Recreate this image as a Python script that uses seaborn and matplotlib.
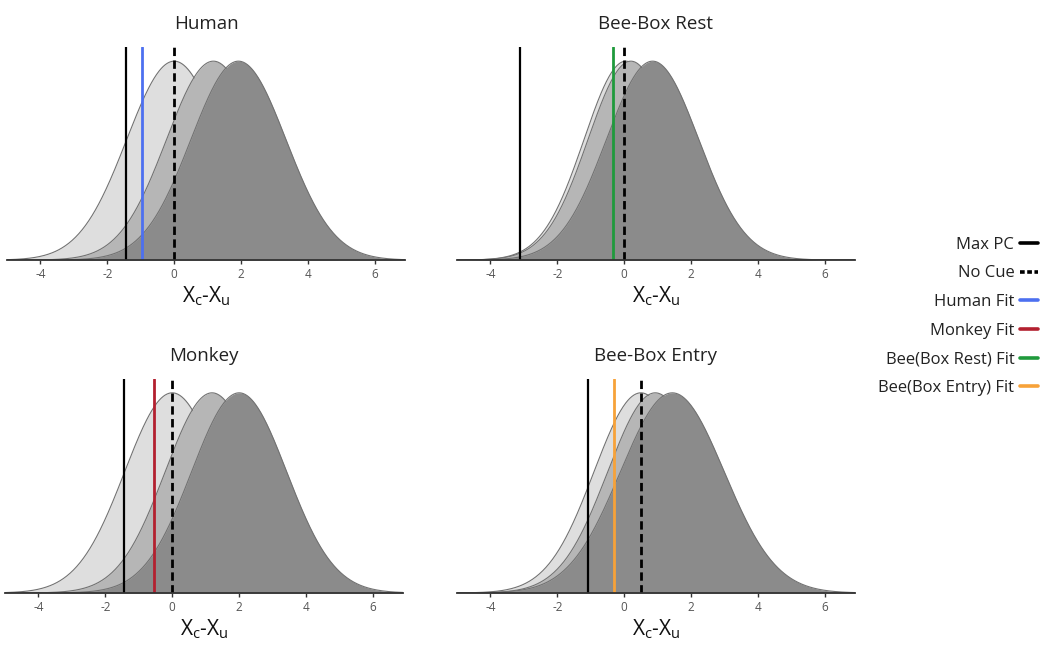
import numpy as np
import matplotlib

matplotlib.use("Agg")
import matplotlib.pyplot as plt  # noqa: E402
import seaborn as sns  # noqa: E402
import pandas as pd  # noqa: E402
from matplotlib.lines import Line2D  # noqa: E402

sns.set_theme(style="white")
plt.rcParams["font.family"] = ["Open Sans", "DejaVu Sans"]

# ---------------------------------------------------------------------------
# Data
# ---------------------------------------------------------------------------
PANELS = ["Human", "Bee-Box Rest", "Monkey", "Bee-Box Entry"]

# centre / spread of the three distributions (light, medium, dark) per panel
light_mean = [0.0, 0.05, 0.0, 0.5]
light_sd = [1.42, 1.25, 1.42, 1.40]
medium_mean = [1.17, 0.2, 1.19, 0.93]
medium_sd = [1.40, 1.28, 1.40, 1.42]
dark_mean = [1.92, 0.85, 2.0, 1.44]
dark_sd = [1.42, 1.38, 1.42, 1.55]

# criterion lines
max_pc = [-1.44, -3.1, -1.43, -1.07]
no_cue = [0.0, 0.0, 0.0, 0.51]
fit_value = [-0.96, -0.32, -0.54, -0.29]
fit_color = ["#4d70f0", "#1f9a3c", "#b3202f", "#f7a239"]

XTICKS = [-4, -2, 0, 2, 4, 6]
XLIM = (-5, 6.9)
YTOP = 1.07

FILLS = ["#dedede", "#b6b6b6", "#8b8b8b"]
EDGE = "#727272"

LEGEND_LABELS = ["Max PC", "No Cue", "Human Fit", "Monkey Fit",
                 "Bee(Box Rest) Fit", "Bee(Box Entry) Fit"]
LEGEND_COLORS = ["black", "black", "#4d70f0", "#b3202f", "#1f9a3c", "#f7a239"]
LEGEND_STYLES = ["-", (0, (1.3, 0.7)), "-", "-", "-", "-"]

# axes boxes in figure fractions [left, bottom, width, height]
BOXES = [
    [0.0067, 0.598, 0.379, 0.329],
    [0.4352, 0.598, 0.379, 0.329],
    [0.0048, 0.0835, 0.379, 0.331],
    [0.4352, 0.0835, 0.379, 0.331],
]

grid = np.linspace(XLIM[0], XLIM[1], 600)


def bump(mean, sd):
    return np.exp(-0.5 * ((grid - mean) / sd) ** 2)


fig = plt.figure(figsize=(10.5, 6.47), dpi=100)

for i, name in enumerate(PANELS):
    ax = fig.add_axes(BOXES[i])
    params = [(light_mean[i], light_sd[i]),
              (medium_mean[i], medium_sd[i]),
              (dark_mean[i], dark_sd[i])]
    for k, (m, s) in enumerate(params):
        y = bump(m, s)
        ax.fill_between(grid, 0, y, color=FILLS[k], lw=0, zorder=1 + 2 * k)
        df = pd.DataFrame({"x": grid, "y": y})
        sns.lineplot(data=df, x="x", y="y", ax=ax, color=EDGE, lw=0.8,
                     zorder=2 + 2 * k)

    ax.axvline(max_pc[i], color="black", lw=1.6, zorder=10)
    ax.axvline(fit_value[i], color=fit_color[i], lw=2.0, zorder=10)
    ax.axvline(no_cue[i], color="black", lw=2.0, ls=(0, (3, 1.6)), zorder=11)

    ax.set_xlim(*XLIM)
    ax.set_ylim(0, YTOP)
    ax.set_yticks([])
    ax.set_xticks(XTICKS)
    ax.set_xticklabels([str(t) for t in XTICKS])
    ax.tick_params(axis="x", length=3, width=1, color="#333333", pad=3,
                   labelsize=8.5, labelcolor="#555555", bottom=True)
    sns.despine(ax=ax, left=True)
    ax.spines["bottom"].set_color("#333333")
    ax.spines["bottom"].set_linewidth(1.3)
    ax.spines["bottom"].set_zorder(12)
    ax.set_ylabel("")
    ax.set_xlabel(r"$\mathregular{X_c}$-$\mathregular{X_u}$", fontsize=15,
                  color="#111111", labelpad=2)
    ax.set_title(name, fontsize=13.5, color="#222222", pad=13)

handles = [Line2D([0], [0], color=c, ls=s, lw=2.6)
           for c, s in zip(LEGEND_COLORS, LEGEND_STYLES)]
fig.legend(handles, LEGEND_LABELS, loc="upper right",
           bbox_to_anchor=(0.989, 0.634), frameon=False, markerfirst=False,
           fontsize=12, handlelength=1.1, handletextpad=0.35,
           labelspacing=0.76, borderpad=0, borderaxespad=0,
           labelcolor="#222222")

fig.savefig("out.png", dpi=100)
